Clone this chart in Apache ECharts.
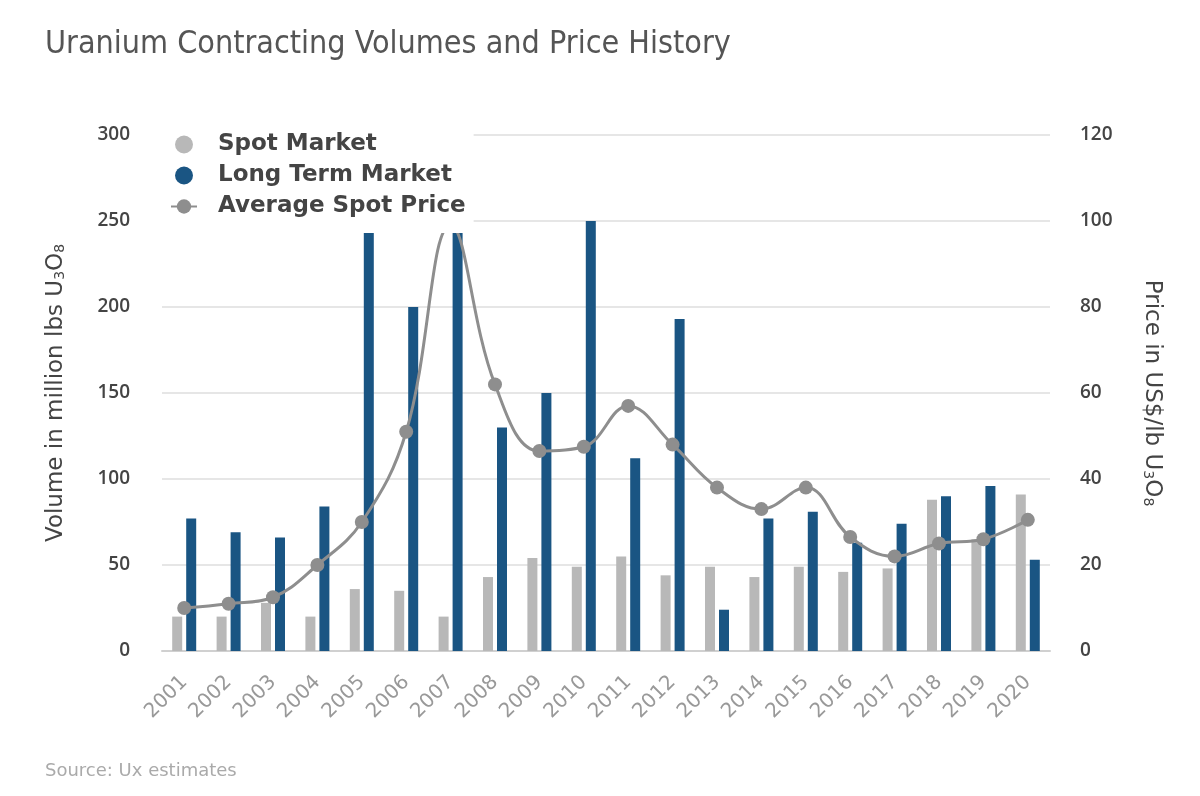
<!DOCTYPE html>
<html lang="en">
<head>
    <meta charset="UTF-8">
    <title>Uranium Contracting Volumes and Price History</title>
    <script src="https://cdn.jsdelivr.net/npm/echarts@6/dist/echarts.min.js"></script>
    <style>
        html, body { margin: 0; padding: 0; background: #fff; }
        #chart { width: 1200px; height: 796px; }
    </style>
</head>
<body>
    <div id="chart"></div>
    <script>
        // Data
        var years = ['2001', '2002', '2003', '2004', '2005', '2006', '2007', '2008', '2009', '2010',
                     '2011', '2012', '2013', '2014', '2015', '2016', '2017', '2018', '2019', '2020'];
        var spotMarket = [20, 20, 28, 20, 36, 35, 20, 43, 54, 49, 55, 44, 49, 43, 49, 46, 48, 88, 65, 91];
        var longTermMarket = [77, 69, 66, 84, 255, 200, 260, 130, 150, 250, 112, 193, 24, 77, 81, 63, 74, 90, 96, 53];
        var avgSpotPrice = [10, 11, 12.5, 20, 30, 51, 99, 62, 46.5, 47.5, 57, 48, 38, 33, 38, 26.5, 22, 25, 26, 30.5];

        var chart = echarts.init(document.getElementById('chart'));

        // shared look of the rotated axis names, with real subscripts
        var nameRich = {
            sub: { fontFamily: 'DejaVu Sans', fontSize: 14, color: '#444', padding: [8, 0, 0, 0] }
        };

        var option = {
            backgroundColor: '#fff',
            animation: false,
            title: {
                text: 'Uranium Contracting Volumes and Price History',
                left: 40,
                top: 24,
                textStyle: {
                    fontFamily: 'DejaVu Sans Condensed',
                    fontSize: 32,
                    fontWeight: 'normal',
                    color: '#555'
                }
            },
            graphic: [{
                type: 'text',
                left: 45,
                top: 762,
                style: {
                    text: 'Source: Ux estimates',
                    font: '18px "DejaVu Sans"',
                    fill: '#aaa'
                }
            }],
            legend: {
                orient: 'vertical',
                left: 160,
                top: 121,
                padding: [12, 8, 15, 10],
                backgroundColor: '#fff',
                itemGap: 8,
                itemWidth: 26,
                itemHeight: 18,
                textStyle: {
                    fontFamily: 'DejaVu Sans',
                    fontSize: 23,
                    fontWeight: 'bold',
                    color: '#444',
                    padding: [0, 0, 0, 16]
                },
                data: [
                    { name: 'Spot Market', icon: 'circle' },
                    { name: 'Long Term Market', icon: 'circle' },
                    { name: 'Average Spot Price' }
                ]
            },
            grid: {
                left: 162,
                right: 150,
                top: 135,
                bottom: 145
            },
            xAxis: {
                type: 'category',
                data: years,
                axisLine: { lineStyle: { color: '#d0d0d0', width: 2 } },
                axisTick: { length: 26, lineStyle: { color: '#e0e0e0', width: 1 } },
                axisLabel: {
                    rotate: 45,
                    margin: 28,
                    fontFamily: 'DejaVu Sans',
                    fontSize: 20,
                    color: '#999'
                }
            },
            yAxis: [{
                type: 'value',
                min: 0,
                max: 300,
                interval: 50,
                name: 'Volume in million lbs U{sub|3}O{sub|8}',
                nameLocation: 'middle',
                nameGap: 94,
                nameTextStyle: {
                    fontFamily: 'DejaVu Sans',
                    fontSize: 23,
                    color: '#444',
                    rich: nameRich
                },
                axisLine: { show: false },
                axisTick: { show: false },
                axisLabel: {
                    margin: 32,
                    fontFamily: 'Open Sans',
                    fontSize: 19,
                    fontWeight: 600,
                    color: '#444'
                },
                splitLine: { lineStyle: { color: '#e6e6e6', width: 2 } }
            }, {
                type: 'value',
                min: 0,
                max: 120,
                interval: 20,
                name: 'Price in US$/lb U{sub|3}O{sub|8}',
                nameLocation: 'middle',
                nameRotate: -90,
                nameGap: 90,
                nameTextStyle: {
                    fontFamily: 'DejaVu Sans',
                    fontSize: 23,
                    color: '#444',
                    rich: nameRich
                },
                axisLine: { show: false },
                axisTick: { show: false },
                axisLabel: {
                    margin: 30,
                    fontFamily: 'Open Sans',
                    fontSize: 19,
                    fontWeight: 600,
                    color: '#444'
                },
                splitLine: { show: false }
            }],
            series: [{
                name: 'Spot Market',
                type: 'bar',
                data: spotMarket,
                barWidth: 10,
                barGap: '40%',
                itemStyle: { color: '#b8b8b8' }
            }, {
                name: 'Long Term Market',
                type: 'bar',
                data: longTermMarket,
                barWidth: 10,
                itemStyle: { color: '#1a5583' }
            }, {
                name: 'Average Spot Price',
                type: 'line',
                yAxisIndex: 1,
                data: avgSpotPrice,
                smooth: 0.4,
                symbol: 'circle',
                symbolSize: 14,
                lineStyle: { color: '#8e8e8e', width: 3 },
                itemStyle: { color: '#8e8e8e' },
                z: 3
            }]
        };

        chart.setOption(option);
    </script>
</body>
</html>
